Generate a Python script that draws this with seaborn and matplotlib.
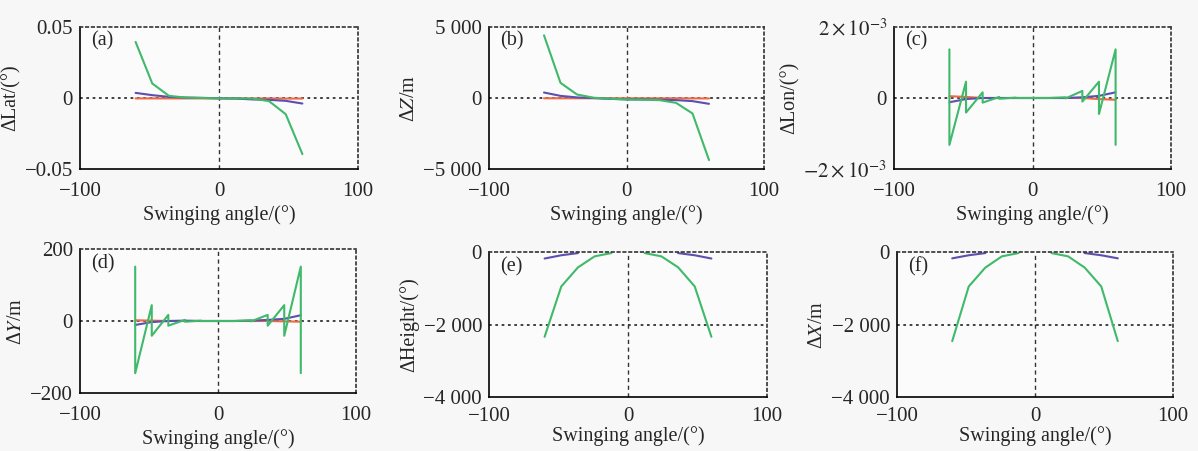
import numpy as np
import pandas as pd
import matplotlib
matplotlib.use("Agg")
import matplotlib.pyplot as plt
import seaborn as sns

# ---------------- data ----------------
angles = [-60, -48, -36, -24, -12, 0, 12, 24, 36, 48, 60]
saw_angles = [-60, -60, -48, -48, -36, -36, -24, -24, -12, -12, 0, 0,
              12, 12, 24, 24, 36, 36, 48, 48, 60, 60]

# (a) ΔLat (deg)
lat_red = [-0.0003, -0.0003, -0.0003, -0.0003, -0.0003, -0.0003, -0.0003, -0.0003, -0.0003, -0.0004, -0.0004]
lat_blue = [0.0036, 0.0020, 0.0008, 0.0003, 0.0001, -0.0002, -0.0004, -0.0010, -0.0013, -0.0020, -0.0039]
lat_green = [0.0395, 0.0102, 0.0015, 0.0003, 0.0000, -0.0003, -0.0003, -0.0004, -0.0022, -0.0114, -0.0395]

# (b) ΔZ (m)
z_red = [-20, -20, -20, -20, -20, -20, -20, -20, -20, -30, -30]
z_blue = [386, 150, 40, 0, -60, -100, -100, -120, -150, -220, -410]
z_green = [4415, 1066, 246, 20, -50, -100, -120, -150, -340, -1090, -4370]

# (c) ΔLon (deg)
lon_red = [0.00005, 0.00003, 0.0, 0.0, 0.0, 0.0, 0.0, 0.0, 0.0, -0.00003, -0.00005]
lon_blue = [-0.00012, -0.00003, 0.0, 0.0, 0.0, 0.0, 0.0, 0.0, 0.00002, 0.00006, 0.00016]
lon_green = [0.00137, -0.00132, 0.00046, -0.00041, 0.00016, -0.00013, 0.00003, -0.00002,
             0.00001, 0.0, 0.0, 0.0, 0.0, 0.0, 0.00002, -0.00001, 0.00020, -0.00010,
             0.00046, -0.00045, 0.00137, -0.00132]

# (d) ΔY (m)
y_red = [2, 1, 0, 0, 0, 0, 0, 0, 0, -1, -2]
y_blue = [-11, -3, 0, 1, 0, 0, 0, 1, 3, 6, 16]
y_green = [151, -145, 44, -41, 17, -13, 3, -2, 1, 0, 0, 0, 0, 0, 2, -1, 17, -13, 44, -41, 151, -145]

# (e) ΔHeight
h_blue = [-180, -90, -30, np.nan, np.nan, np.nan, np.nan, np.nan, -30, -90, -180]
h_green = [-2340, -950, -425, -120, -30, np.nan, -30, -120, -420, -950, -2340]

# (f) ΔX (m)
x_blue = [-175, -90, -30, np.nan, np.nan, np.nan, np.nan, np.nan, -30, -90, -175]
x_green = [-2460, -950, -430, -120, -30, np.nan, -30, -120, -430, -950, -2460]

x_ticks = [-100, 0, 100]
x_ticklabels = ["\u2212100", "0", "100"]
xlabel = "Swinging angle/(°)"

# ---------------- style ----------------
sns.set_style("white")
plt.rcParams["font.family"] = ["Liberation Serif", "DejaVu Serif"]
plt.rcParams["mathtext.fontset"] = "stix"
plt.rcParams["axes.unicode_minus"] = True

RED = "#ee6a45"
BLUE = "#5b4fb0"
GREEN = "#3fb96a"
FS = 14.5
TFS = 15

W, H = 1198, 451
fig = plt.figure(figsize=(W / 100, H / 100), dpi=100, facecolor="#f7f7f7")

boxes = {
    "a": (80, 358, 27, 169),
    "b": (489, 764, 27, 169),
    "c": (894, 1171, 27, 169),
    "d": (80, 356, 249, 393),
    "e": (489, 767, 252, 397),
    "f": (897, 1173, 252, 397),
}


def make_ax(key):
    l, r, t, b = boxes[key]
    return fig.add_axes([l / W, 1 - b / H, (r - l) / W, (b - t) / H])


def draw(ax, xs, ys, color, lw=1.5):
    xs = np.asarray(xs, float)
    ys = np.asarray(ys, float)
    ok = ~np.isnan(ys)
    # split into contiguous runs so gaps stay gaps
    runs, cur = [], []
    for i in range(len(xs)):
        if ok[i]:
            cur.append(i)
        elif cur:
            runs.append(cur)
            cur = []
    if cur:
        runs.append(cur)
    for run in runs:
        df = pd.DataFrame({"x": xs[run], "y": ys[run]})
        sns.lineplot(data=df, x="x", y="y", ax=ax, color=color, lw=lw,
                     sort=False, estimator=None)


def style(ax, label, ylabel, ylim, yticks, yticklabels, hlines, xpad=9, lpad=3):
    ax.set_facecolor("#fbfbfb")
    ax.set_xlim(-100, 100)
    ax.set_ylim(*ylim)
    ax.set_xticks(x_ticks)
    ax.set_xticklabels(x_ticklabels, fontsize=TFS)
    ax.set_yticks(yticks)
    ax.set_yticklabels(yticklabels, fontsize=TFS)
    ax.tick_params(axis="both", direction="in", length=3, width=1, color="black")
    ax.tick_params(axis="x", pad=xpad)
    ax.tick_params(axis="y", pad=5)
    ax.set_xlabel(xlabel, fontsize=FS, labelpad=lpad)
    ax.set_ylabel(ylabel, fontsize=FS, labelpad=3)
    for s in ["left", "bottom"]:
        ax.spines[s].set_color("black")
        ax.spines[s].set_linewidth(1.2)
    for s in ["top", "right"]:
        ax.spines[s].set_color("#333333")
        ax.spines[s].set_linewidth(1.2)
        ax.spines[s].set_linestyle((0, (1.5, 2)))
    ax.axvline(0, color="#333333", lw=1, ls=(0, (3, 2.5)), zorder=0.5)
    for h in hlines:
        ax.axhline(h, color="#333333", lw=1.3, ls=(0, (1.5, 2)), zorder=0.5)
    ax.text(0.04, 0.9, label, transform=ax.transAxes, fontsize=FS,
            ha="left", va="center")


# (a)
ax = make_ax("a")
draw(ax, angles, lat_red, RED)
draw(ax, angles, lat_blue, BLUE)
draw(ax, angles, lat_green, GREEN)
style(ax, "(a)", "ΔLat/(°)", (-0.05, 0.05), [-0.05, 0, 0.05],
      ["\u22120.05", "0", "0.05"], [0])

# (b)
ax = make_ax("b")
draw(ax, angles, z_red, RED)
draw(ax, angles, z_blue, BLUE)
draw(ax, angles, z_green, GREEN)
style(ax, "(b)", "Δ$Z$/m", (-5000, 5000), [-5000, 0, 5000],
      ["\u22125 000", "0", "5 000"], [0])

# (c)
ax = make_ax("c")
draw(ax, angles, lon_red, RED)
draw(ax, angles, lon_blue, BLUE)
draw(ax, saw_angles, lon_green, GREEN)
style(ax, "(c)", "ΔLon/(°)", (-0.002, 0.002), [-0.002, 0, 0.002],
      [r"$-2\times10^{-3}$", "0", r"$2\times10^{-3}$"], [0])

# (d)
ax = make_ax("d")
draw(ax, angles, y_red, RED)
draw(ax, angles, y_blue, BLUE)
draw(ax, saw_angles, y_green, GREEN)
style(ax, "(d)", "Δ$Y$/m", (-200, 200), [-200, 0, 200],
      ["\u2212200", "0", "200"], [0])

# (e)
ax = make_ax("e")
draw(ax, angles, h_blue, BLUE)
draw(ax, angles, h_green, GREEN)
style(ax, "(e)", "ΔHeight/(°)", (-4000, 0), [-4000, -2000, 0],
      ["\u22124 000", "\u22122 000", "0"], [-2000], xpad=7, lpad=0)

# (f)
ax = make_ax("f")
draw(ax, angles, x_blue, BLUE)
draw(ax, angles, x_green, GREEN)
style(ax, "(f)", "Δ$X$/m", (-4000, 0), [-4000, -2000, 0],
      ["\u22124 000", "\u22122 000", "0"], [-2000], xpad=7, lpad=0)

fig.savefig("out.png", dpi=100, facecolor=fig.get_facecolor())
